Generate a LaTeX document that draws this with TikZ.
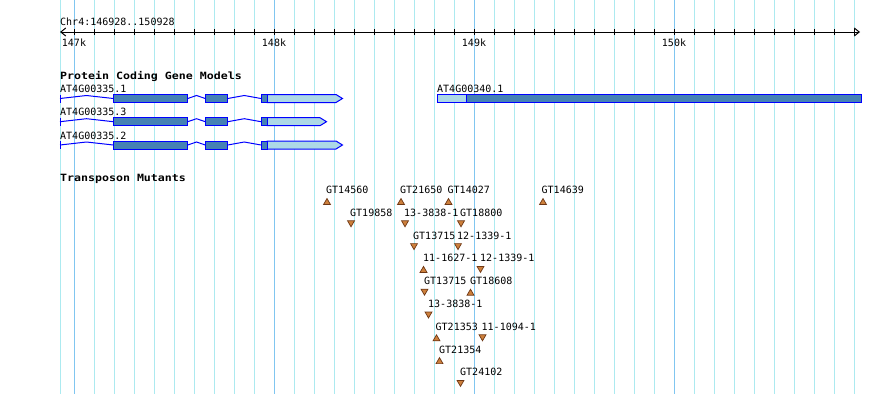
\documentclass[tikz,border=0pt]{standalone}
\usepackage{fontspec}
\newfontfamily\gbmono{DejaVu Sans Mono}
\newfontfamily\gbhead{DejaVu Sans Mono}[FakeStretch=1.16]
\usetikzlibrary{arrows.meta,shapes.geometric}
\definecolor{gridminor}{RGB}{172,234,240}
\definecolor{gridmajor}{RGB}{128,198,240}
\definecolor{cdsfill}{RGB}{70,130,180}
\definecolor{utrfill}{RGB}{173,216,230}
\definecolor{tefill}{RGB}{205,128,60}
\definecolor{tedraw}{RGB}{110,55,20}
\tikzset{
      tracklabel/.style={
        font=\gbmono\fontsize{10}{12}\selectfont,
        inner sep=0pt,
        anchor=base west
      },
      trackhead/.style={
        font=\gbhead\bfseries\fontsize{10}{12}\selectfont,
        inner sep=0pt,
        anchor=base west
      },
      ticklabel/.style={
        font=\gbmono\fontsize{10}{12}\selectfont,
        inner sep=0pt,
        anchor=base
      },
      cds/.style={draw=blue, fill=cdsfill, line width=1pt},
      utr/.style={draw=blue, fill=utrfill, line width=1pt},
      intron/.style={draw=blue, line width=1pt},
      teup/.style={
        regular polygon,
        regular polygon sides=3,
        minimum size=8pt,
        inner sep=0pt,
        draw=tedraw,
        fill=tefill,
        line width=0.7pt
      },
      tedown/.style={teup, shape border rotate=180}
    }
% gene model of AT4G00335: #1 row centre, #2 end of the 3' UTR
\newcommand{\genemodel}[2]{
    \draw[intron] (60,#1-4) -- (60,#1+4);
    \draw[intron] (60,#1) -- (86.5,#1-3) -- (113.3,#1);
    \draw[intron] (187.7,#1) -- (196.5,#1-3) -- (205.3,#1);
    \draw[intron] (227.7,#1) -- (244.3,#1-3) -- (261,#1);
    \filldraw[cds] (113.3,#1-4) rectangle (187.7,#1+4);
    \filldraw[cds] (205.3,#1-4) rectangle (227.7,#1+4);
    \filldraw[utr] (267,#1-4) -- (#2,#1-4) -- (#2+6.5,#1) -- (#2,#1+4) -- (267,#1+4) -- cycle;
    \filldraw[cds] (261,#1-4) rectangle (267,#1+4);
}

\begin{document}
\begin{tikzpicture}[x=1pt,y=-1pt]
    \useasboundingbox[fill=white] (0,0) rectangle (890,394);
    % grid
    \draw[gridminor] (60,0) -- (60,394);
    \foreach \gx in {94,114,...,854} \draw[gridminor] (\gx,0) -- (\gx,394);
    \foreach \gx in {74,274,474,674} \draw[gridmajor] (\gx,0) -- (\gx,394);
    % ruler
    \node[tracklabel] (chr) at (60,25) {Chr4:146928..150928};
    \coordinate (rulerL) at (60,32);
    \coordinate (rulerR) at (860,32);
    \draw[{Straight Barb[length=5pt,width=8pt]}-{Straight Barb[length=5pt,width=8pt]}, line width=1pt] (rulerL) -- (rulerR);
    \foreach \tx in {74,94,...,854} \draw[line width=1pt] (\tx,29) -- (\tx,35);
    \node[ticklabel] (k147) at (74,46) {147k};
    \node[ticklabel] (k148) at (274,46) {148k};
    \node[ticklabel] (k149) at (474,46) {149k};
    \node[ticklabel] (k150) at (674,46) {150k};

    % gene models
    \node[trackhead] (genes) at (60,79.5) {Protein Coding Gene Models};
    \node[tracklabel] (g1) at (60,92) {AT4G00335.1};
    \genemodel{98.5}{336}
    \node[tracklabel] (g3) at (60,115.5) {AT4G00335.3};
    \genemodel{121.7}{320}
    \node[tracklabel] (g2) at (60,139) {AT4G00335.2};
    \genemodel{145}{336}
    \node[tracklabel] (g4) at (437,92) {AT4G00340.1};
    \filldraw[cds] (466,94.7) rectangle (861.5,102.7);
    \filldraw[utr] (437,94.7) rectangle (466,102.7);

    % transposon mutants
    \node[trackhead] (tes) at (60,181) {Transposon Mutants};
    \node[teup] (t1) at (327,202.5) {};
    \node[tracklabel] (t1lab) at (326,193.5) {GT14560};
    \node[teup] (t2) at (401,202.5) {};
    \node[tracklabel] (t2lab) at (400,193.5) {GT21650};
    \node[teup] (t3) at (448.5,202.5) {};
    \node[tracklabel] (t3lab) at (447.5,193.5) {GT14027};
    \node[teup] (t4) at (543,202.5) {};
    \node[tracklabel] (t4lab) at (541.5,193.5) {GT14639};
    \node[tedown] (t5) at (351,222.8) {};
    \node[tracklabel] (t5lab) at (350,216.3) {GT19858};
    \node[tedown] (t6) at (405,222.8) {};
    \node[tracklabel] (t6lab) at (404,216.3) {13-3838-1};
    \node[tedown] (t7) at (461,222.8) {};
    \node[tracklabel] (t7lab) at (460,216.3) {GT18800};
    \node[tedown] (t8) at (414,245.6) {};
    \node[tracklabel] (t8lab) at (413,239.1) {GT13715};
    \node[tedown] (t9) at (458,245.6) {};
    \node[tracklabel] (t9lab) at (457,239.1) {12-1339-1};
    \node[teup] (t10) at (423.5,270.4) {};
    \node[tracklabel] (t10lab) at (423,261.9) {11-1627-1};
    \node[tedown] (t11) at (480.5,268.4) {};
    \node[tracklabel] (t11lab) at (480,261.9) {12-1339-1};
    \node[tedown] (t12) at (424.5,291.2) {};
    \node[tracklabel] (t12lab) at (424,284.7) {GT13715};
    \node[teup] (t13) at (470.5,293.2) {};
    \node[tracklabel] (t13lab) at (470,284.7) {GT18608};
    \node[tedown] (t14) at (428.5,314) {};
    \node[tracklabel] (t14lab) at (428,307.5) {13-3838-1};
    \node[teup] (t15) at (436.5,338.8) {};
    \node[tracklabel] (t15lab) at (435.5,330.3) {GT21353};
    \node[tedown] (t16) at (482.5,336.8) {};
    \node[tracklabel] (t16lab) at (481.5,330.3) {11-1094-1};
    \node[teup] (t17) at (439.5,361.6) {};
    \node[tracklabel] (t17lab) at (439,353.1) {GT21354};
    \node[tedown] (t18) at (460.5,382.4) {};
    \node[tracklabel] (t18lab) at (460,375.9) {GT24102};
\end{tikzpicture}
\end{document}
